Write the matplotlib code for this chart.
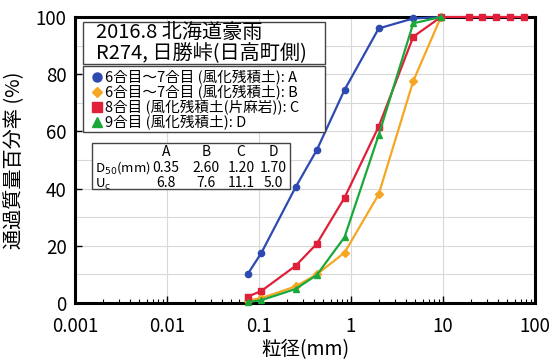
import numpy as np
import matplotlib
matplotlib.use('Agg')
import matplotlib.pyplot as plt
from matplotlib.ticker import LogLocator, FixedLocator, NullFormatter
from matplotlib.patches import Rectangle

plt.rcParams['font.family'] = ['Noto Sans CJK JP', 'DejaVu Sans']

# 粒径 (mm) と 通過質量百分率 (%)
sizeA = [0.075, 0.106, 0.25, 0.425, 0.85, 2.0, 4.75, 9.5]
passA = [10, 17.5, 40.5, 53.5, 74.5, 96, 99.5, 100]
sizeB = [0.075, 0.106, 0.25, 0.425, 0.85, 2.0, 4.75, 9.5]
passB = [0.8, 1.7, 5.8, 10, 17.6, 38, 77.6, 100]
sizeC = [0.075, 0.106, 0.25, 0.425, 0.85, 2.0, 4.75, 9.5, 19, 26.5, 37.5, 53, 75]
passC = [2.2, 4.2, 13, 20.7, 36.8, 61.7, 93.1, 100, 100, 100, 100, 100, 100]
sizeD = [0.075, 0.106, 0.25, 0.425, 0.85, 2.0, 4.75, 9.5]
passD = [0.3, 1.0, 4.9, 9.8, 23, 58.7, 97.8, 100]

titleLines = ['2016.8 北海道豪雨', 'R274, 日勝峠(日高町側)']
labels = ['6合目～7合目 (風化残積土): A',
          '6合目～7合目 (風化残積土): B',
          '8合目 (風化残積土(片麻岩)): C',
          '9合目 (風化残積土): D']
colors = ['#2e4ab0', '#f5a623', '#e0203a', '#1aa83a']
markers = ['o', 'D', 's', '^']

# 表
colNames = ['A', 'B', 'C', 'D']
d50 = ['0.35', '2.60', '1.20', '1.70']
uc = ['6.8', '7.6', '11.1', '5.0']

fig = plt.figure(figsize=(5.59, 3.64), dpi=100)
ax = fig.add_axes([75/559, 1-303/364, 460/559, 286/364])

def axp(px, py):
    # ピクセル -> 軸座標
    return (px-75)/460, (303-py)/286

def box(l, t, r, b):
    x0, y0 = axp(l, t)
    x1, y1 = axp(r, b)
    ax.add_patch(Rectangle((x0, y1), x1-x0, y0-y1, transform=ax.transAxes, fc='white',
                           ec='#444444', lw=1, zorder=9, clip_on=False))

def txt(px, py, s, size, ha='left'):
    x, y = axp(px, py)
    ax.text(x, y, s, transform=ax.transAxes, fontsize=size, ha=ha, va='center', zorder=10)

series = [(sizeA, passA), (sizeB, passB), (sizeC, passC), (sizeD, passD)]
for n in [1, 2, 3, 0]:
    x, y = series[n]
    ms = 4.5 if markers[n] != 'D' else 3.8
    ax.plot(x, y, color=colors[n], marker=markers[n], ms=ms, lw=1.6,
            zorder=3+n, clip_on=False)

ax.set_xscale('log')
ax.set_xlim(0.001, 100)
ax.set_ylim(0, 100)
ax.set_xticks([0.001, 0.01, 0.1, 1, 10, 100])
ax.set_xticklabels(['0.001', '0.01', '0.1', '1', '10', '100'])
ax.xaxis.set_minor_locator(LogLocator(base=10, subs=np.arange(2, 10)))
ax.xaxis.set_minor_formatter(NullFormatter())
ax.set_yticks([0, 20, 40, 60, 80, 100])
ax.yaxis.set_minor_locator(FixedLocator(np.arange(10, 100, 20)))
ax.grid(True, which='major', color='#d8d8d8', lw=0.8)
ax.grid(True, which='minor', axis='y', color='#d8d8d8', lw=0.8)
ax.tick_params(which='both', direction='in', labelsize=13.5)
ax.tick_params(which='major', length=5, width=1)
ax.tick_params(axis='x', which='major', pad=9)
ax.tick_params(axis='y', which='major', pad=6)
ax.tick_params(which='minor', length=3, width=0.8)
ax.tick_params(axis='y', which='minor', length=0)
for s in ax.spines.values():
    s.set_linewidth(2.2)

ax.set_xlabel('粒径(mm)', fontsize=14, labelpad=2)
ax.set_ylabel('通過質量百分率 (%)', fontsize=14.5, labelpad=8)

# タイトル枠
box(83, 22, 325, 64)
txt(96, 32, titleLines[0], 14.5)
txt(96, 54, titleLines[1], 14.5)

# 凡例
box(83, 66, 325, 132)
rowL = [77, 92, 107, 122]
for n in range(4):
    mx, my = axp(97, rowL[n])
    ms = 6.5 if markers[n] != 'D' else 5.5
    ax.plot([mx], [my], transform=ax.transAxes, marker=markers[n], color=colors[n],
            ms=ms, ls='', zorder=10, clip_on=False)
    txt(105, rowL[n], labels[n], 10.5)

# 表
box(92, 143, 290, 189)
colX = [166, 206, 241, 273]
rowY = [152, 168, 183]
for n in range(4):
    for r, s in enumerate([colNames[n], d50[n], uc[n]]):
        txt(colX[n], rowY[r], s, 10, ha='center')
txt(95, rowY[1], 'D$_{50}$(mm)', 9.5)
txt(95, rowY[2] + 1, 'U$_{\\mathrm{c}}$', 9.5)

fig.savefig('out.png', dpi=100)
